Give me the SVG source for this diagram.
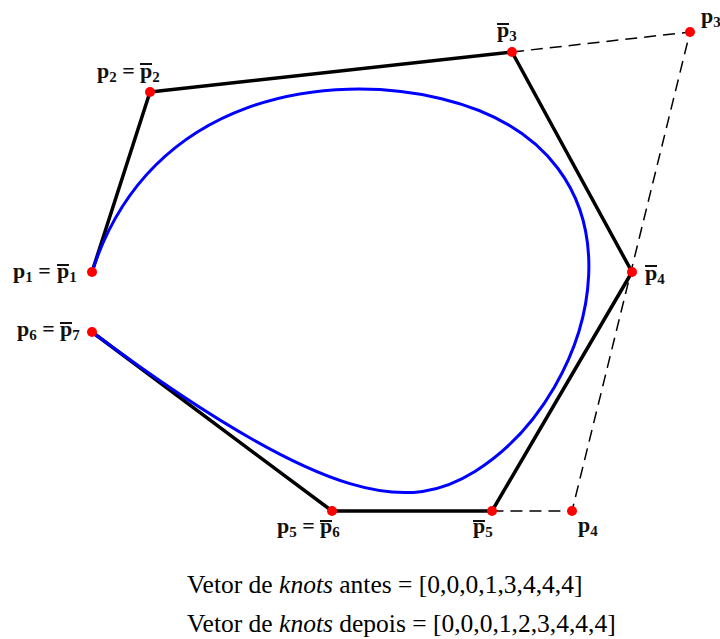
<svg xmlns="http://www.w3.org/2000/svg" width="720" height="639" viewBox="0 0 720 639">
<style>
.lbl{font-family:"Liberation Serif","Times New Roman",serif;font-weight:bold;font-size:22px;fill:#111}
.sub{font-size:15px}
.ov{stroke:#111;stroke-width:2}
.pt{fill:#ff0000}
.poly{fill:none;stroke:#000;stroke-width:3.5;stroke-linejoin:round}
.dash{fill:none;stroke:#000;stroke-width:1.5;stroke-dasharray:12 7}
.curve{fill:none;stroke:#0000ff;stroke-width:3}
.cap{font-family:"Liberation Serif","Times New Roman",serif;font-size:25.5px;fill:#000}
</style>
<rect width="720" height="639" fill="#fff"/>
<g id="connectors">
<polyline class="dash" points="512,52 690,32 572,511 492,511"/>
<polyline class="poly" points="92,272 150,92 512,52 632,272 492,511 332,511 92,332"/>
<path class="curve" d="M92,272 C150,92 331,72 441.5,98.67 C552,125.33 592,198.67 588.67,275.17 C585.33,351.67 538.67,431.33 475.33,471.17 C412,511 332,511 92,332"/>
</g>
<g id="p1">
<circle class="pt" cx="92" cy="272" r="5"/>
<text class="lbl" x="13" y="278">p<tspan class="sub" dy="4">1</tspan><tspan dy="-4"> =</tspan><tspan x="57">p</tspan><tspan class="sub" dy="4">1</tspan></text>
<line class="ov" x1="57" y1="265" x2="69" y2="265"/>
</g>
<g id="p2">
<circle class="pt" cx="150" cy="92" r="5"/>
<text class="lbl" x="97" y="78">p<tspan class="sub" dy="4">2</tspan><tspan dy="-4"> =</tspan><tspan x="140">p</tspan><tspan class="sub" dy="4">2</tspan></text>
<line class="ov" x1="140" y1="64" x2="152" y2="64"/>
</g>
<g id="pbar3">
<circle class="pt" cx="512" cy="52" r="5"/>
<text class="lbl" x="497" y="37">p<tspan class="sub" dy="4">3</tspan></text>
<line class="ov" x1="497" y1="24" x2="509" y2="24"/>
</g>
<g id="p3">
<circle class="pt" cx="690" cy="32" r="5"/>
<text class="lbl" x="701" y="23">p<tspan class="sub" dy="4">3</tspan></text>
</g>
<g id="pbar4">
<circle class="pt" cx="632" cy="272" r="5"/>
<text class="lbl" x="645" y="280">p<tspan class="sub" dy="4">4</tspan></text>
<line class="ov" x1="645" y1="266" x2="657" y2="266"/>
</g>
<g id="p4">
<circle class="pt" cx="572" cy="511" r="5"/>
<text class="lbl" x="578" y="532">p<tspan class="sub" dy="4">4</tspan></text>
</g>
<g id="pbar5">
<circle class="pt" cx="492" cy="511" r="5"/>
<text class="lbl" x="473" y="533">p<tspan class="sub" dy="4">5</tspan></text>
<line class="ov" x1="473" y1="521" x2="485" y2="521"/>
</g>
<g id="p5">
<circle class="pt" cx="332" cy="511" r="5"/>
<text class="lbl" x="277" y="533">p<tspan class="sub" dy="4">5</tspan><tspan dy="-4"> =</tspan><tspan x="320">p</tspan><tspan class="sub" dy="4">6</tspan></text>
<line class="ov" x1="320" y1="521" x2="332" y2="521"/>
</g>
<g id="p6">
<circle class="pt" cx="92" cy="332" r="5"/>
<text class="lbl" x="17" y="336">p<tspan class="sub" dy="4">6</tspan><tspan dy="-4"> =</tspan><tspan x="60">p</tspan><tspan class="sub" dy="4">7</tspan></text>
<line class="ov" x1="60" y1="323" x2="72" y2="323"/>
</g>
<g id="caption">
<text class="cap" x="187" y="593">Vetor de <tspan font-style="italic">knots</tspan> antes = [0,0,0,1,3,4,4,4]</text>
<text class="cap" x="187" y="632">Vetor de <tspan font-style="italic">knots</tspan> depois = [0,0,0,1,2,3,4,4,4]</text>
</g>
</svg>
